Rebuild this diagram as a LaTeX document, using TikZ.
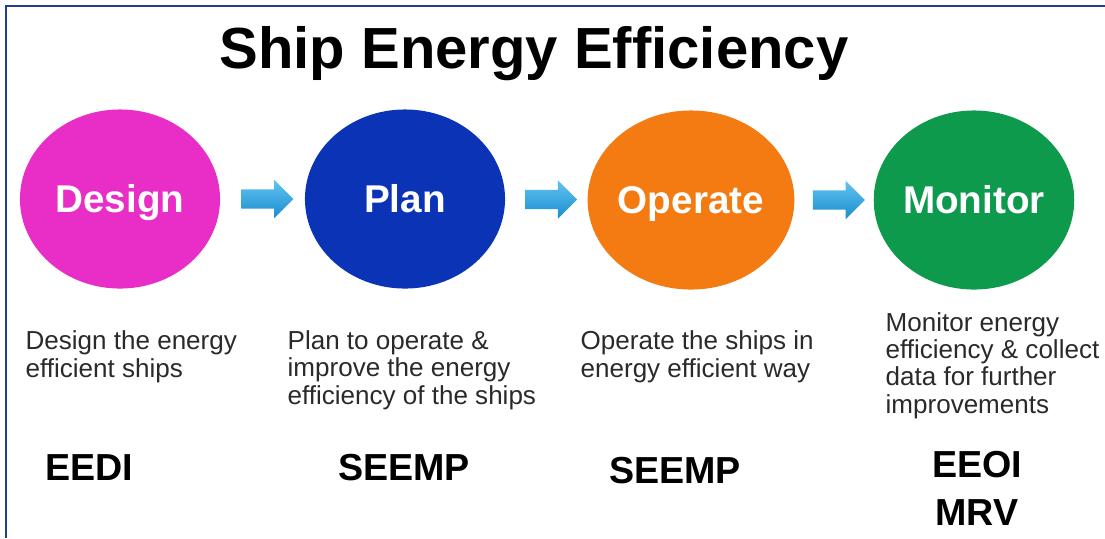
\documentclass[tikz,border=0pt]{standalone}
\usepackage{fontspec}
\setmainfont{Liberation Sans}
\usetikzlibrary{shapes.geometric,shapes.arrows,calc}
\definecolor{designpink}{HTML}{E82EC6}
\definecolor{planblue}{HTML}{0A34B5}
\definecolor{operateorange}{HTML}{F47A12}
\definecolor{monitorgreen}{HTML}{0E9A4C}
\definecolor{arrowtop}{HTML}{62C4F0}
\definecolor{arrowbottom}{HTML}{1A8CCF}
\definecolor{frameblue}{HTML}{1F3D8C}
\definecolor{desctext}{HTML}{2A2A2A}
\begin{document}
\begin{tikzpicture}[x=0.01cm,y=-0.01cm,
	stage/.style={ellipse,minimum width=2cm,minimum height=1.79cm,inner sep=0pt,text=white,text height=7.9pt,text depth=0pt,font=\fontsize{11}{12}\selectfont\bfseries},
	flowarrow/.style={single arrow,minimum height=0.52cm,text height=0.09cm,text depth=0.09cm,single arrow head extend=0.095cm,inner sep=0pt,top color=arrowtop,bottom color=arrowbottom},
	desc/.style={anchor=base west,align=left,inner sep=0pt,text=desctext,font=\fontsize{7.4}{7.7}\selectfont},
	tool/.style={anchor=base,align=center,inner sep=0pt,font=\fontsize{10.7}{13.4}\selectfont\bfseries}]
	\useasboundingbox (0,0) rectangle (1105,538);
	\fill[white] (0,0) rectangle (1105,538);
	% Rahmen oben und links
	\draw[frameblue,line width=0.7pt] (6,538) -- (6,6) -- (1105,6);
	\node[anchor=base,inner sep=0pt,font=\fontsize{16.5}{18}\selectfont\bfseries] (title) at (534,68) {Ship Energy Efficiency};
	% Kreise
	\node[stage,fill=designpink] (design) at (120,199) {Design};
	\node[stage,fill=planblue] (plan) at (405,199) {Plan};
	\node[stage,fill=operateorange] (operate) at (691,200) {Operate};
	\node[stage,fill=monitorgreen] (monitor) at (974,200) {Monitor};
	% Pfeile
	\node[flowarrow] (arrowa) at ($(design.east)!0.5!(plan.west)$) {};
	\node[flowarrow] (arrowb) at ($(plan.east)!0.5!(operate.west)$) {};
	\node[flowarrow] (arrowc) at ($(operate.east)!0.5!(monitor.west)$) {};
	% Beschreibungen (Grundlinie der letzten Zeile)
	\node[desc] (designtxt) at (25,377) {Design the energy\\efficient ships};
	\node[desc] (plantxt) at (287,404) {Plan to operate \&\\improve the energy\\efficiency of the ships};
	\node[desc] (operatetxt) at (580,377) {Operate the ships in\\energy efficient way};
	\node[desc] (monitortxt) at (885,413) {Monitor energy\\efficiency \& collect\\data for further\\improvements};
	% Instrumente
	\node[tool] (eedi) at (89,480) {EEDI};
	\node[tool] (seempa) at (404,480) {SEEMP};
	\node[tool] (seempb) at (675,483) {SEEMP};
	\node[tool] (eeoi) at (977,525) {EEOI\\MRV};
\end{tikzpicture}
\end{document}
